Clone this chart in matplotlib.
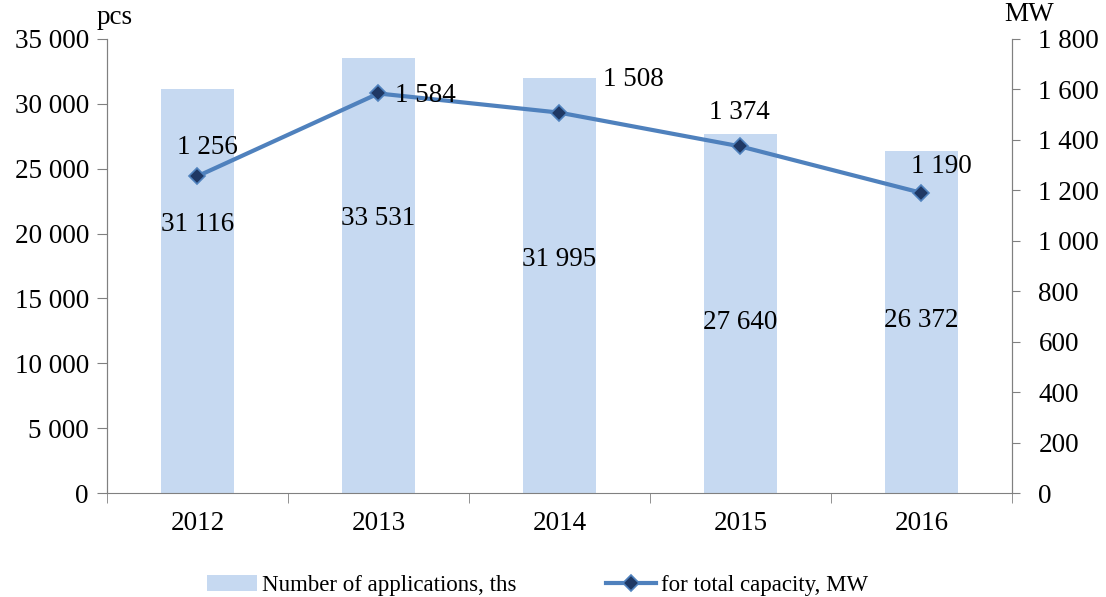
import matplotlib.pyplot as plt
import numpy as np
from matplotlib.ticker import FuncFormatter, MultipleLocator

plt.rcParams['font.family'] = ['Liberation Serif', 'DejaVu Serif']

# Data
years = ['2012', '2013', '2014', '2015', '2016']
applications = [31116, 33531, 31995, 27640, 26372]
capacity_mw = [1256, 1584, 1508, 1374, 1190]

# Label placement (fraction of bar height for bar labels, pixel offsets for line labels)
bar_label_frac = [0.665, 0.63, 0.563, 0.475, 0.503]
line_label_offset = [(10, 29), (47, -2), (74, 33), (-1, 34), (20, 26)]

bar_color = '#C6D9F1'
line_color = '#4F81BD'
marker_color = '#1F3864'
FS = 19.5


def space_fmt(v, pos=None):
    return f'{int(round(v)):,}'.replace(',', ' ')


fig = plt.figure(figsize=(11.06, 5.97), dpi=100)
ax = fig.add_axes([0.0967, 0.1742, 0.8183, 0.7605])
ax2 = ax.twinx()

x = np.arange(len(years))
ax.bar(x, applications, width=0.4, color=bar_color, zorder=1,
       label='Number of applications, ths')
ax2.plot(x, capacity_mw, color=line_color, lw=3, marker='D', ms=8,
         markerfacecolor=marker_color, markeredgecolor=line_color, mew=1.2,
         label='for total capacity, MW', zorder=3)

for xi, v, f in zip(x, applications, bar_label_frac):
    ax.text(xi, v * f, space_fmt(v), ha='center', va='center', fontsize=FS)

for xi, v, (dx, dy) in zip(x, capacity_mw, line_label_offset):
    ax2.annotate(space_fmt(v), (xi, v), xytext=(dx * 0.72, dy * 0.72),
                 textcoords='offset points', ha='center', va='center', fontsize=FS)

ax.set_xlim(-0.5, len(years) - 0.5)
ax.set_ylim(0, 35000)
ax2.set_ylim(0, 1800)
ax.yaxis.set_major_locator(MultipleLocator(5000))
ax2.yaxis.set_major_locator(MultipleLocator(200))
ax.yaxis.set_major_formatter(FuncFormatter(space_fmt))
ax2.yaxis.set_major_formatter(FuncFormatter(space_fmt))

ax.set_xticks(x)
ax.set_xticklabels(years)
ax.set_xticks(np.arange(-0.5, len(years)), minor=True)
ax.tick_params(axis='x', which='major', length=0, labelsize=FS, pad=13)
ax.tick_params(axis='x', which='minor', length=7, color='#808080')
ax.tick_params(axis='y', length=7, color='#808080', labelsize=FS, pad=6)
ax2.tick_params(axis='y', length=6, color='#808080', labelsize=FS, pad=13)

for a in (ax, ax2):
    a.spines['top'].set_visible(False)
    for s in ('left', 'right', 'bottom'):
        a.spines[s].set_color('#808080')
ax2.spines['bottom'].set_visible(False)
ax.set_zorder(ax2.get_zorder() - 1)
ax2.patch.set_visible(False)

fig.text(0.087, 0.97, 'pcs', fontsize=FS, ha='left', va='center')
fig.text(0.908, 0.975, 'MW', fontsize=FS, ha='left', va='center')

h1, l1 = ax.get_legend_handles_labels()
h2, l2 = ax2.get_legend_handles_labels()
fig.legend(h1 + h2, l1 + l2, loc='center', bbox_to_anchor=(0.486, 0.02), ncol=2,
           frameon=False, fontsize=16.5, handlelength=2.2, handletextpad=0.2,
           columnspacing=3.9)

fig.savefig('out.png', dpi=100)
